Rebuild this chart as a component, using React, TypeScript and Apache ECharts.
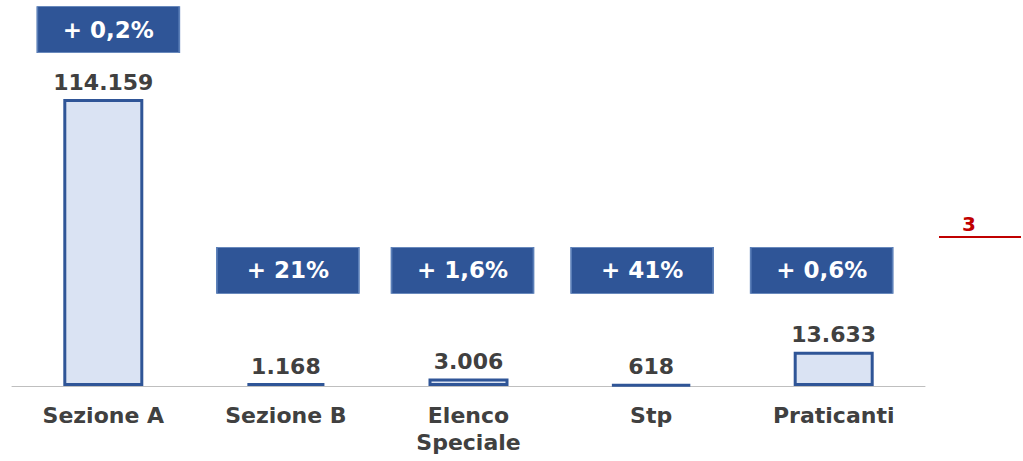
import React, { useEffect, useRef } from "react";
import * as echarts from "echarts";

const categories = ["Sezione A", "Sezione B", "Elenco\nSpeciale", "Stp", "Praticanti"];
const values = [114159, 1168, 3006, 618, 13633];
const changes = ["+ 0,2%", "+ 21%", "+ 1,6%", "+ 41%", "+ 0,6%"];
const pageNumber = "3";

const FONT = "DejaVu Sans";

export default function App() {
  const ref = useRef<HTMLDivElement>(null);
  useEffect(() => {
    if (!ref.current) return;
    const chart = echarts.init(ref.current, null, { renderer: "svg" });
    const boxShift = [5, 2, -6, -9, -12];
    const boxLevel = (i: number) => (i === 0 ? 141800 : 46000);
    chart.setOption({
      animation: false,
      grid: { left: 12, right: 98, top: 9, bottom: 75, containLabel: false },
      xAxis: {
        type: "category",
        data: categories,
        axisTick: { show: false },
        axisLine: { lineStyle: { color: "#bfbfbf", width: 1 } },
        axisLabel: {
          color: "#404040",
          fontFamily: FONT,
          fontWeight: "bold",
          fontSize: 22,
          lineHeight: 27,
          margin: 16,
          interval: 0,
        },
      },
      yAxis: { type: "value", min: 0, max: 150000, show: false, splitLine: { show: false } },
      series: [
        {
          type: "bar",
          data: values,
          barWidth: 80,
          itemStyle: { color: "#dae3f3", borderColor: "#2f5597", borderWidth: 3 },
          label: {
            show: true,
            position: "top",
            distance: 6,
            color: "#404040",
            fontFamily: FONT,
            fontWeight: "bold",
            fontSize: 22,
            formatter: (p: any) => Number(p.value).toLocaleString("it-IT").replace(/,/g, "."),
          },
        },
        {
          type: "scatter",
          clip: false,
          silent: true,
          data: changes.map((c, i) => ({
            value: [i, boxLevel(i)],
            name: c,
            symbolOffset: [boxShift[i], 0],
          })),
          symbol: "rect",
          symbolSize: [142, 46],
          itemStyle: { color: "#2f5597", borderColor: "#5b7fb8", borderWidth: 1, opacity: 1 },
          label: {
            show: true,
            position: "inside",
            color: "#ffffff",
            fontFamily: FONT,
            fontWeight: "bold",
            fontSize: 23,
            formatter: (p: any) => p.name,
          },
        },
      ],
      graphic: [
        {
          type: "text",
          left: 962,
          top: 214,
          style: {
            text: pageNumber,
            fill: "#c00000",
            font: `bold 20px ${FONT}`,
          },
        },
        {
          type: "line",
          shape: { x1: 939, y1: 237, x2: 1021, y2: 237 },
          style: { stroke: "#c00000", lineWidth: 2 },
        },
      ],
    });
    return () => chart.dispose();
  }, []);
  return (
    <div
      ref={ref}
      style={{ position: "fixed", left: 0, top: 0, width: 1023, height: 461, background: "#fff" }}
    />
  );
}
